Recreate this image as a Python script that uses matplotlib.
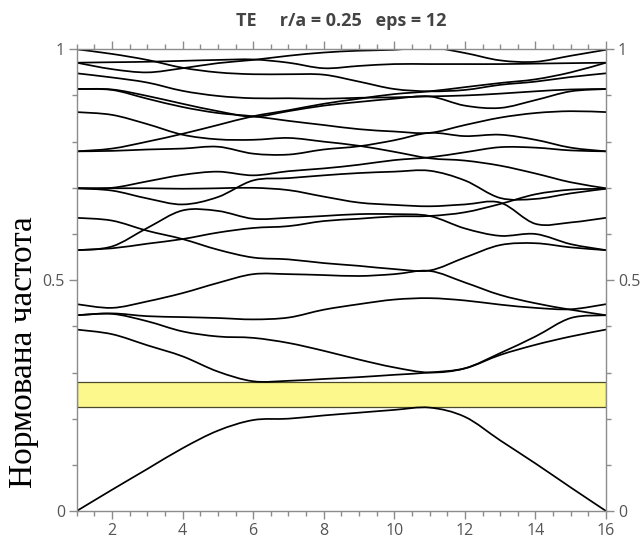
import numpy as np
import matplotlib
matplotlib.use("Agg")
import matplotlib.pyplot as plt
from matplotlib.path import Path
from matplotlib.patches import PathPatch, Rectangle

# k-point index along the path
k = np.arange(1, 17)

# band frequencies (normalised) at each k-point
band_c1 = [0.000, 0.046, 0.091, 0.136, 0.174, 0.197, 0.200, 0.207, 0.213, 0.219, 0.224, 0.204, 0.153, 0.103, 0.051, 0.000]
band_c2 = [0.393, 0.383, 0.359, 0.335, 0.302, 0.281, 0.282, 0.286, 0.290, 0.295, 0.300, 0.309, 0.338, 0.360, 0.378, 0.393]
band_c3 = [0.424, 0.427, 0.411, 0.389, 0.378, 0.375, 0.364, 0.347, 0.328, 0.311, 0.300, 0.309, 0.342, 0.378, 0.418, 0.424]
band_c4 = [0.424, 0.428, 0.422, 0.420, 0.418, 0.415, 0.419, 0.436, 0.448, 0.458, 0.461, 0.456, 0.447, 0.440, 0.437, 0.448]
band_c5 = [0.448, 0.440, 0.454, 0.472, 0.494, 0.513, 0.513, 0.511, 0.509, 0.513, 0.520, 0.495, 0.468, 0.450, 0.436, 0.424]
band_c6 = [0.565, 0.569, 0.579, 0.589, 0.603, 0.613, 0.617, 0.628, 0.633, 0.638, 0.639, 0.647, 0.665, 0.686, 0.696, 0.698]
band_c7 = [0.565, 0.573, 0.613, 0.651, 0.650, 0.633, 0.635, 0.639, 0.643, 0.643, 0.639, 0.612, 0.596, 0.600, 0.578, 0.565]
band_c8 = [0.635, 0.629, 0.607, 0.589, 0.566, 0.549, 0.545, 0.537, 0.531, 0.524, 0.521, 0.549, 0.576, 0.580, 0.571, 0.565]
band_c9 = [0.699, 0.694, 0.677, 0.664, 0.680, 0.716, 0.721, 0.727, 0.732, 0.735, 0.737, 0.716, 0.678, 0.676, 0.688, 0.698]
band_c10 = [0.699, 0.699, 0.699, 0.698, 0.699, 0.700, 0.695, 0.681, 0.668, 0.663, 0.660, 0.664, 0.668, 0.622, 0.625, 0.635]
band_c11 = [0.699, 0.700, 0.714, 0.728, 0.735, 0.727, 0.736, 0.742, 0.750, 0.760, 0.766, 0.777, 0.788, 0.787, 0.781, 0.779]
band_c12 = [0.779, 0.780, 0.783, 0.785, 0.789, 0.774, 0.772, 0.783, 0.790, 0.803, 0.819, 0.812, 0.815, 0.804, 0.787, 0.779]
band_c13 = [0.864, 0.858, 0.838, 0.815, 0.805, 0.804, 0.808, 0.800, 0.791, 0.778, 0.764, 0.759, 0.748, 0.731, 0.712, 0.699]
band_c14 = [0.779, 0.785, 0.800, 0.817, 0.836, 0.855, 0.868, 0.882, 0.893, 0.903, 0.909, 0.918, 0.927, 0.935, 0.950, 0.971]
band_c15 = [0.914, 0.913, 0.899, 0.882, 0.866, 0.854, 0.866, 0.878, 0.886, 0.893, 0.898, 0.878, 0.873, 0.890, 0.909, 0.914]
band_c16 = [0.914, 0.912, 0.893, 0.875, 0.862, 0.855, 0.845, 0.836, 0.827, 0.822, 0.819, 0.836, 0.852, 0.862, 0.866, 0.864]
band_c17 = [0.948, 0.939, 0.928, 0.910, 0.899, 0.894, 0.894, 0.893, 0.895, 0.896, 0.898, 0.900, 0.904, 0.909, 0.913, 0.914]
band_c18 = [1.000, 0.990, 0.977, 0.960, 0.950, 0.946, 0.946, 0.945, 0.930, 0.914, 0.909, 0.912, 0.923, 0.930, 0.940, 0.948]
band_c19 = [0.971, 0.972, 0.973, 0.975, 0.977, 0.978, 0.971, 0.959, 0.964, 0.968, 0.968, 0.968, 0.968, 0.969, 0.970, 0.971]
band_c20 = [0.971, 0.957, 0.950, 0.959, 0.970, 0.977, 0.986, 0.993, 0.997, 0.999, 1.004, 0.992, 0.976, 0.973, 0.986, 0.999]

bands = [band_c1, band_c2, band_c3, band_c4, band_c5, band_c6, band_c7,
         band_c8, band_c9, band_c10, band_c11, band_c12, band_c13, band_c14,
         band_c15, band_c16, band_c17, band_c18, band_c19, band_c20]

# photonic band gap
gap_lo, gap_hi = 0.225, 0.279

title = "TE     r/a = 0.25   eps = 12"
ylabel = "Нормована частота"
xticks = [2, 4, 6, 8, 10, 12, 14, 16]
yticks = [0, 0.5, 1]
ytick_labels = ["0", "0.5", "1"]


def smooth_path(xs, ys):
    # bezier segments through the k-points (catmull-rom style control points)
    pts = np.column_stack([xs, ys]).astype(float)
    n = len(pts)
    verts = [pts[0]]
    codes = [Path.MOVETO]
    for i in range(n - 1):
        p0 = pts[i - 1] if i > 0 else pts[i]
        p1 = pts[i]
        p2 = pts[i + 1]
        p3 = pts[i + 2] if i + 2 < n else pts[i + 1]
        verts += [p1 + (p2 - p0) / 6, p2 - (p3 - p1) / 6, p2]
        codes += [Path.CURVE4] * 3
    return Path(verts, codes)


fig = plt.figure(figsize=(6.43, 5.43), dpi=100)
ax = fig.add_axes([0.1193, 0.0589, 0.8232, 0.8503])

ax.add_patch(Rectangle((k[0], gap_lo), k[-1] - k[0], gap_hi - gap_lo,
                       facecolor="#fdf88c", edgecolor="#4a4a2a", lw=0.9, zorder=1))

for b in bands:
    ax.add_patch(PathPatch(smooth_path(k, b), fill=False, edgecolor="black",
                           lw=1.25, zorder=2))

ax.set_xlim(1, 16)
ax.set_ylim(0, 1)

grey = "#8c8c8c"
for s in ax.spines.values():
    s.set_color(grey)
    s.set_linewidth(1.0)

ax.set_xticks(xticks)
ax.set_xticks(np.arange(1, 16.01, 0.5), minor=True)
ax.set_yticks(yticks)
ax.set_yticklabels(ytick_labels)
ax.set_yticks(np.arange(0, 1.001, 0.1), minor=True)
ax.tick_params(which="both", direction="out", color=grey, top=True, right=True,
               labelright=True, labelsize=11.5, labelcolor="#555555")
ax.tick_params(which="major", length=6, width=1, pad=2.5)
ax.tick_params(which="minor", length=3.5, width=1)
for lab in ax.get_xticklabels() + ax.get_yticklabels():
    lab.set_family("Open Sans")
for lab in ax.yaxis.get_majorticklabels():
    lab.set_family("Open Sans")

fig.text(0.531, 0.962, title, ha="center", va="center", fontsize=13,
         fontweight="bold", color="#444444", family="Open Sans")
fig.text(0.037, 0.352, ylabel, ha="center", va="center", rotation=90,
         fontsize=24, family="Liberation Serif", color="black")

fig.savefig("out.png", dpi=100)
